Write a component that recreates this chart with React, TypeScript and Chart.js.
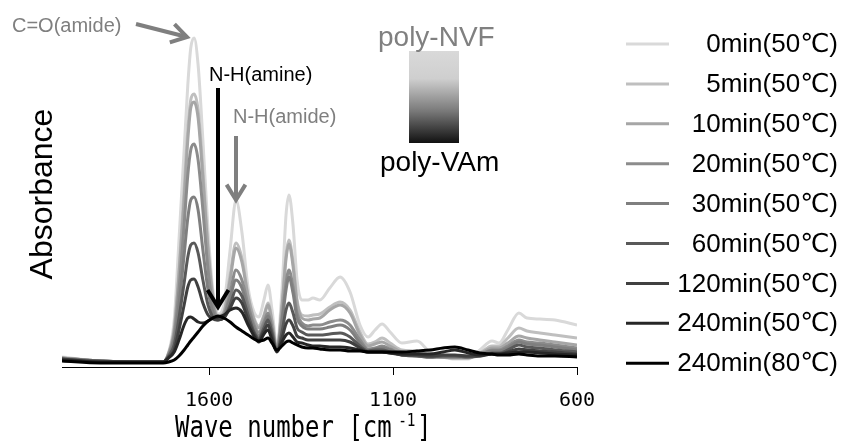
import React, { useEffect, useRef } from "react";
import { Chart, registerables } from "chart.js";

Chart.register(...registerables);

// Wavenumber grid (cm^-1)
const wavenumbers = [2000, 1895, 1790, 1725, 1710, 1695, 1682, 1668, 1658, 1650, 1641, 1630, 1617, 1603, 1590, 1576, 1560, 1543, 1527, 1511, 1494, 1478, 1465, 1451, 1440, 1429, 1416, 1402, 1391, 1383, 1372, 1361, 1348, 1331, 1318, 1299, 1272, 1244, 1217, 1190, 1168, 1149, 1130, 1108, 1076, 1035, 1000, 964, 932, 896, 864, 831, 812, 788, 758, 736, 701, 660, 600];

// Absorbance (arbitrary units) for each reaction time
const abs0min = [10, 6, 5, 5, 15, 47, 127, 217, 282, 319, 329, 302, 227, 137, 77, 53, 62, 117, 167, 135, 79, 55, 50, 67, 82, 57, 22, 77, 152, 172, 142, 87, 67, 67, 69, 67, 79, 90, 75, 42, 30, 37, 43, 35, 24, 26, 15, 10, 8, 8, 17, 26, 24, 37, 54, 49, 48, 47, 42];
const abs5min = [9, 6, 5, 5, 14, 39, 97, 177, 237, 267, 273, 257, 197, 122, 72, 51, 55, 92, 124, 109, 72, 49, 41, 52, 64, 47, 19, 62, 112, 127, 105, 67, 52, 51, 52, 53, 60, 65, 57, 35, 23, 25, 29, 24, 17, 16, 12, 10, 9, 9, 14, 21, 21, 29, 39, 36, 34, 32, 29];
const abs10min = [9, 6, 5, 5, 14, 37, 92, 167, 227, 259, 265, 249, 189, 117, 69, 50, 54, 87, 119, 105, 70, 47, 39, 50, 62, 45, 18, 60, 108, 123, 101, 64, 49, 47, 48, 49, 57, 62, 54, 32, 21, 23, 25, 21, 15, 14, 11, 10, 9, 9, 13, 19, 19, 24, 31, 29, 27, 25, 22];
const abs20min = [9, 6, 5, 5, 13, 32, 77, 142, 192, 217, 223, 207, 157, 97, 62, 49, 52, 74, 97, 87, 62, 42, 35, 45, 54, 39, 17, 49, 84, 97, 80, 54, 44, 41, 42, 42, 45, 47, 42, 27, 18, 19, 21, 18, 13, 12, 10, 10, 10, 10, 12, 17, 17, 21, 27, 25, 24, 22, 19];
const abs30min = [8, 6, 5, 5, 12, 27, 62, 112, 149, 167, 170, 157, 117, 77, 55, 48, 50, 69, 87, 79, 57, 39, 32, 42, 51, 37, 17, 45, 77, 90, 74, 49, 41, 38, 38, 38, 40, 42, 37, 24, 17, 18, 19, 17, 12, 11, 10, 10, 10, 10, 12, 16, 16, 19, 25, 23, 22, 20, 17];
const abs60min = [8, 6, 5, 5, 11, 22, 49, 84, 110, 122, 124, 114, 87, 62, 50, 47, 49, 62, 77, 71, 52, 35, 29, 39, 47, 34, 16, 35, 57, 64, 54, 39, 35, 32, 32, 32, 33, 34, 30, 21, 16, 17, 17, 15, 12, 11, 10, 11, 11, 10, 11, 14, 14, 17, 22, 20, 19, 17, 15];
const abs120min = [8, 5, 5, 5, 10, 17, 37, 62, 80, 87, 88, 80, 64, 52, 48, 47, 49, 59, 69, 64, 47, 33, 27, 36, 42, 30, 16, 29, 43, 47, 41, 31, 29, 27, 27, 27, 27, 27, 25, 19, 15, 15, 15, 14, 12, 12, 11, 12, 12, 11, 11, 13, 13, 15, 18, 17, 16, 15, 13];
const abs240min50 = [7, 5, 5, 5, 9, 15, 27, 42, 49, 50, 48, 45, 44, 46, 49, 50, 52, 57, 59, 55, 42, 31, 25, 33, 37, 27, 15, 25, 32, 34, 30, 25, 24, 22, 21, 21, 20, 20, 19, 17, 15, 15, 15, 14, 13, 13, 13, 15, 17, 14, 12, 13, 13, 14, 15, 15, 14, 13, 12];
const abs240min80 = [6, 4, 4, 4, 5, 7, 11, 17, 22, 26, 30, 35, 41, 46, 49, 51, 49, 45, 40, 36, 32, 28, 26, 27, 29, 24, 17, 21, 25, 26, 24, 22, 20, 19, 19, 18, 17, 17, 16, 16, 15, 15, 15, 15, 15, 16, 17, 19, 20, 17, 14, 13, 12, 12, 13, 12, 11, 11, 10];

const seriesLabels = ["0min(50℃)", "5min(50℃)", "10min(50℃)", "20min(50℃)", "30min(50℃)", "60min(50℃)", "120min(50℃)", "240min(50℃)", "240min(80℃)"];
const seriesValues = [abs0min, abs5min, abs10min, abs20min, abs30min, abs60min, abs120min, abs240min50, abs240min80];
const seriesColors = ["#d9d9d9", "#bfbfbf", "#a6a6a6", "#8c8c8c", "#7f7f7f", "#595959", "#404040", "#262626", "#000000"];

const xTickValues = [1600, 1100, 600];

function drawArrow(ctx: CanvasRenderingContext2D, x1: number, y1: number, x2: number, y2: number, color: string, width: number, head: number) {
  const ang = Math.atan2(y2 - y1, x2 - x1);
  ctx.strokeStyle = color;
  ctx.lineWidth = width;
  ctx.lineCap = "butt";
  ctx.lineJoin = "miter";
  ctx.beginPath();
  ctx.moveTo(x1, y1);
  ctx.lineTo(x2 - Math.cos(ang) * 2, y2 - Math.sin(ang) * 2);
  ctx.stroke();
  ctx.beginPath();
  ctx.moveTo(x2 - head * Math.cos(ang - 0.55), y2 - head * Math.sin(ang - 0.55));
  ctx.lineTo(x2, y2);
  ctx.lineTo(x2 - head * Math.cos(ang + 0.55), y2 - head * Math.sin(ang + 0.55));
  ctx.stroke();
}

const overlayPlugin = {
  id: "overlay",
  afterDraw(chart: any) {
    const ctx: CanvasRenderingContext2D = chart.ctx;
    ctx.save();
    // Legend
    seriesLabels.forEach((label, i) => {
      const y = 44 + i * 39.9;
      ctx.strokeStyle = seriesColors[i];
      ctx.lineWidth = 3;
      ctx.beginPath();
      ctx.moveTo(626, y);
      ctx.lineTo(669, y);
      ctx.stroke();
      ctx.fillStyle = "#000";
      ctx.font = '26px "Liberation Sans", "DejaVu Sans", sans-serif';
      ctx.textAlign = "right";
      ctx.textBaseline = "middle";
      ctx.fillText(label, 838, y + 1);
    });

    // Annotations
    ctx.textAlign = "left";
    ctx.textBaseline = "middle";
    ctx.font = '20px "Liberation Sans", sans-serif';
    ctx.fillStyle = "#7f7f7f";
    ctx.fillText("C=O(amide)", 12, 26);
    drawArrow(ctx, 136, 24, 187, 37, "#7f7f7f", 4, 18);

    ctx.fillStyle = "#000";
    ctx.fillText("N-H(amine)", 209, 75);
    drawArrow(ctx, 218, 88, 218, 307, "#000", 4, 20);

    ctx.fillStyle = "#7f7f7f";
    ctx.fillText("N-H(amide)", 233, 117);
    drawArrow(ctx, 236, 136, 236, 200, "#7f7f7f", 4, 18);

    // Gradient box
    const g = ctx.createLinearGradient(0, 51, 0, 143);
    g.addColorStop(0, "#d9d9d9");
    g.addColorStop(0.3, "#cfcfcf");
    g.addColorStop(0.65, "#7a7a7a");
    g.addColorStop(1, "#111111");
    ctx.fillStyle = g;
    ctx.fillRect(409, 51, 50, 92);

    ctx.font = '28px "Liberation Sans", sans-serif';
    ctx.textBaseline = "alphabetic";
    ctx.fillStyle = "#808080";
    ctx.fillText("poly-NVF", 378, 46);
    ctx.fillStyle = "#000";
    ctx.fillText("poly-VAm", 380, 171);

    // Axis titles
    ctx.save();
    ctx.translate(175, 437);
    ctx.scale(0.8, 1);
    ctx.font = '30px "DejaVu Sans Mono", monospace';
    ctx.fillStyle = "#000";
    const main = "Wave number [cm";
    ctx.fillText(main, 0, 0);
    let w = ctx.measureText(main).width + 8;
    ctx.font = '18px "DejaVu Sans Mono", monospace';
    ctx.fillText("-1", w, -11);
    w += ctx.measureText("-1").width + 2;
    ctx.font = '30px "DejaVu Sans Mono", monospace';
    ctx.fillText("]", w, 0);
    ctx.restore();

    ctx.save();
    ctx.translate(52, 194);
    ctx.rotate(-Math.PI / 2);
    ctx.font = '32px "Liberation Sans", sans-serif';
    ctx.textAlign = "center";
    ctx.textBaseline = "alphabetic";
    ctx.fillStyle = "#000";
    ctx.fillText("Absorbance", 0, 0);
    ctx.restore();

    ctx.restore();
  },
};

export default function App() {
  const canvasRef = useRef<HTMLCanvasElement | null>(null);

  useEffect(() => {
    if (!canvasRef.current) return;
    const datasets = seriesValues.map((vals, i) => ({
      label: seriesLabels[i],
      data: wavenumbers.map((wn, j) => ({ x: wn, y: vals[j] })),
      borderColor: seriesColors[i],
      backgroundColor: seriesColors[i],
      borderWidth: 3,
      pointRadius: 0,
      fill: false,
      cubicInterpolationMode: "monotone" as const,
      order: seriesValues.length - i,
    }));
    const chart = new Chart(canvasRef.current, {
      type: "line",
      data: { datasets },
      options: {
        animation: false,
        responsive: true,
        maintainAspectRatio: false,
        layout: { padding: { left: 62, right: 265, top: 17, bottom: 0 } },
        plugins: { legend: { display: false }, tooltip: { enabled: false } },
        scales: {
          x: {
            type: "linear",
            reverse: true,
            min: 600,
            max: 2000,
            grid: { drawOnChartArea: false, drawTicks: true, tickLength: 8, color: "#000", lineWidth: 1 },
            border: { display: true, color: "#000", width: 1 },
            ticks: {
              color: "#000",
              font: { family: '"DejaVu Sans Mono", monospace', size: 20 },
              padding: 14,
              maxRotation: 0,
              autoSkip: false,
              callback: (v: any) => String(v),
            },
            afterBuildTicks: (s: any) => {
              s.ticks = xTickValues.map((v) => ({ value: v }));
            },
            afterFit: (s: any) => {
              s.height = 76;
            },
          },
          y: { display: false, min: 0, max: 350 },
        },
      },
      plugins: [overlayPlugin],
    });
    return () => chart.destroy();
  }, []);

  return (
    <div style={{ position: "absolute", left: 0, top: 0, width: 842, height: 443, background: "#fff" }}>
      <canvas ref={canvasRef} />
    </div>
  );
}
